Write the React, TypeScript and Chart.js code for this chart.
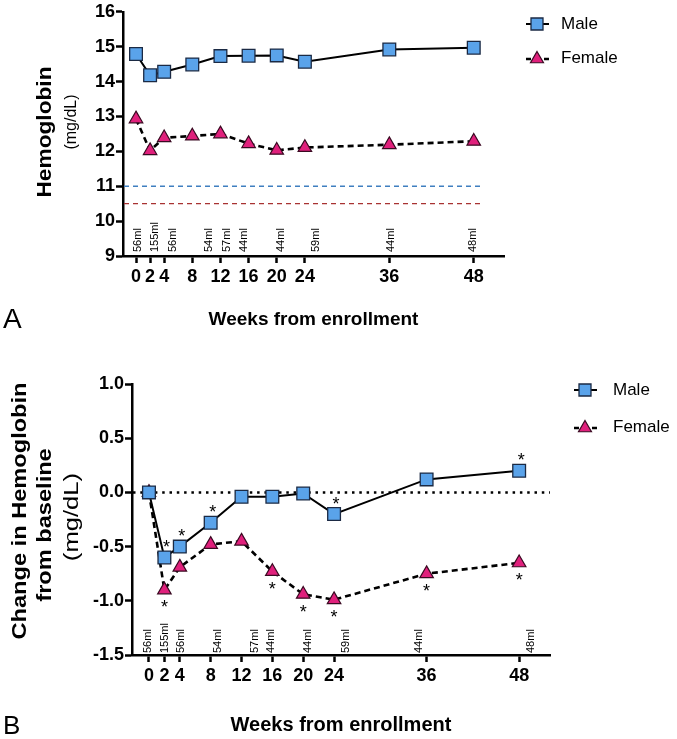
import React, { useEffect, useRef } from "react";
import { Chart, registerables } from "chart.js";

Chart.register(...registerables);

// ---------------- data ----------------
const weeks = [0, 2, 4, 8, 12, 16, 20, 24, 36, 48];

// Panel A: absolute hemoglobin (mg/dL)
const maleHb = [14.79, 14.18, 14.28, 14.49, 14.73, 14.74, 14.75, 14.57, 14.92, 14.97];
const femaleHb = [12.93, 12.02, 12.39, 12.44, 12.5, 12.22, 12.03, 12.11, 12.19, 12.29];
const maleThreshold = 11;
const femaleThreshold = 10.5;
const thresholdEndWeek = 49;

// Panel B: change from baseline (mg/dL)
const maleChange = [0, -0.6, -0.5, -0.28, -0.04, -0.04, -0.01, -0.2, 0.12, 0.2];
const femaleChange = [0, -0.9, -0.69, -0.48, -0.45, -0.73, -0.94, -0.99, -0.75, -0.65];
const maleChangeSig = [false, true, true, true, false, false, false, true, false, true];
const femaleChangeSig = [false, true, false, false, false, true, true, true, true, true];

// blood volume annotations (label, week position)
const volumeLabels = ["56ml", "155ml", "56ml", "54ml", "57ml", "44ml", "44ml", "59ml", "44ml", "48ml"];
const volumePosA = [0.35, 2.7, 5.3, 10.4, 12.9, 15.4, 20.6, 25.6, 36.3, 48.0];
const volumePosB = [-0.1, 2.05, 4.2, 9.0, 13.8, 15.9, 20.7, 25.6, 35.0, 49.6];

const seriesNames = ["Male", "Female"];

// ---------------- styles ----------------
const FONT = "'Liberation Sans', Arial, Helvetica, sans-serif";
const MALE_FILL = "#5AA3EA";
const MALE_EDGE = "#1b2a44";
const FEMALE_FILL = "#E0207C";
const FEMALE_EDGE = "#3a0a22";

function drawSquare(ctx: CanvasRenderingContext2D, x: number, y: number, s: number) {
  ctx.save();
  ctx.fillStyle = MALE_FILL;
  ctx.strokeStyle = MALE_EDGE;
  ctx.lineWidth = 1.3;
  ctx.setLineDash([]);
  ctx.beginPath();
  ctx.rect(x - s / 2, y - s / 2, s, s);
  ctx.fill();
  ctx.stroke();
  ctx.restore();
}

function drawTriangle(ctx: CanvasRenderingContext2D, x: number, y: number, r: number) {
  ctx.save();
  ctx.fillStyle = FEMALE_FILL;
  ctx.strokeStyle = FEMALE_EDGE;
  ctx.lineWidth = 1.2;
  ctx.setLineDash([]);
  ctx.beginPath();
  let a = 0;
  for (let k = 0; k < 3; k++) {
    const px = x + Math.sin(a) * r;
    const py = y - Math.cos(a) * r;
    if (k === 0) ctx.moveTo(px, py);
    else ctx.lineTo(px, py);
    a += (2 * Math.PI) / 3;
  }
  ctx.closePath();
  ctx.fill();
  ctx.stroke();
  ctx.restore();
}

function vText(
  ctx: CanvasRenderingContext2D,
  text: string,
  x: number,
  y: number,
  font: string,
  stretch: number
) {
  ctx.save();
  ctx.translate(x, y);
  ctx.rotate(-Math.PI / 2);
  ctx.scale(stretch, 1);
  ctx.font = font;
  ctx.fillStyle = "#000";
  ctx.textAlign = "center";
  ctx.textBaseline = "middle";
  ctx.fillText(text, 0, 0);
  ctx.restore();
}

const decorPlugin = {
  id: "decor",
  beforeDatasetsDraw(chart: any, _args: any, opts: any) {
    const ctx: CanvasRenderingContext2D = chart.ctx;
    const xs = chart.scales.x;
    const ys = chart.scales.y;
    const { left, right, bottom } = chart.chartArea;
    (opts.refLines || []).forEach((r: any) => {
      const y = ys.getPixelForValue(r.value);
      const x2 = r.endWeek != null ? xs.getPixelForValue(r.endWeek) : right;
      ctx.save();
      ctx.strokeStyle = r.color;
      ctx.lineWidth = r.width;
      ctx.setLineDash(r.dash);
      ctx.beginPath();
      ctx.moveTo(left + 1, y);
      ctx.lineTo(x2, y);
      ctx.stroke();
      ctx.restore();
    });
    if (opts.volumePos) {
      ctx.save();
      ctx.font = `10px ${FONT}`;
      ctx.fillStyle = "#000";
      volumeLabels.forEach((t, i) => {
        const x = xs.getPixelForValue(opts.volumePos[i]);
        ctx.save();
        ctx.translate(x, bottom - opts.volumeGap);
        ctx.rotate(-Math.PI / 2);
        ctx.scale(opts.volumeStretch, 1);
        ctx.textAlign = "left";
        ctx.textBaseline = "middle";
        ctx.fillText(t, 0, 0);
        ctx.restore();
      });
      ctx.restore();
    }
  },
  afterDatasetsDraw(chart: any, _args: any, opts: any) {
    const ctx: CanvasRenderingContext2D = chart.ctx;
    const xs = chart.scales.x;
    const ys = chart.scales.y;
    if (opts.stars) {
      ctx.save();
      ctx.font = `18px ${FONT}`;
      ctx.fillStyle = "#000";
      ctx.textAlign = "center";
      ctx.textBaseline = "alphabetic";
      opts.stars.forEach((s: any) => {
        s.sig.forEach((on: boolean, i: number) => {
          if (!on) return;
          const x = xs.getPixelForValue(weeks[i]) + s.dx;
          const y = ys.getPixelForValue(s.values[i]) + s.dy;
          ctx.fillText("*", x, y + 10.5);
        });
      });
      ctx.restore();
    }
  },
  afterDraw(chart: any, _args: any, opts: any) {
    const ctx: CanvasRenderingContext2D = chart.ctx;
    (opts.yTitles || []).forEach((t: any) => vText(ctx, t.text, t.x, t.y, t.font, t.stretch));
    if (opts.letter) {
      ctx.save();
      ctx.font = `${opts.letter.size}px ${FONT}`;
      ctx.fillStyle = "#000";
      ctx.textAlign = "left";
      ctx.textBaseline = "alphabetic";
      ctx.fillText(opts.letter.text, opts.letter.x, opts.letter.y);
      ctx.restore();
    }
    if (opts.legend) {
      const L = opts.legend;
      const mx = chart.chartArea.right + L.dx;
      ctx.save();
      ctx.strokeStyle = "#000";
      ctx.lineWidth = 2;
      ctx.beginPath();
      ctx.moveTo(mx - 11, L.y1);
      ctx.lineTo(mx + 12, L.y1);
      ctx.stroke();
      ctx.restore();
      drawSquare(ctx, mx, L.y1, 12);
      ctx.save();
      ctx.strokeStyle = "#000";
      ctx.lineWidth = 2.5;
      ctx.setLineDash([5, 4]);
      ctx.beginPath();
      ctx.moveTo(mx - 11, L.y2 + 1);
      ctx.lineTo(mx + 12, L.y2 + 1);
      ctx.stroke();
      ctx.restore();
      drawTriangle(ctx, mx, L.y2 + 1, 7.5);
      ctx.save();
      ctx.font = `17px ${FONT}`;
      ctx.fillStyle = "#000";
      ctx.textAlign = "left";
      ctx.textBaseline = "middle";
      ctx.fillText(seriesNames[0], mx + L.textDx, L.y1);
      ctx.fillText(seriesNames[1], mx + L.textDx, L.y2);
      ctx.restore();
    }
  },
};

function makeDatasets(male: number[], female: number[]) {
  return [
    {
      label: seriesNames[0],
      data: weeks.map((w, i) => ({ x: w, y: male[i] })),
      borderColor: "#000",
      borderWidth: 2,
      pointStyle: "rect",
      pointRadius: 9,
      pointBackgroundColor: MALE_FILL,
      pointBorderColor: MALE_EDGE,
      pointBorderWidth: 1.3,
      tension: 0,
      fill: false,
    },
    {
      label: seriesNames[1],
      data: weeks.map((w, i) => ({ x: w, y: female[i] })),
      borderColor: "#000",
      borderWidth: 2.6,
      borderDash: [6, 4],
      pointStyle: "triangle",
      pointRadius: 7.8,
      pointBackgroundColor: FEMALE_FILL,
      pointBorderColor: FEMALE_EDGE,
      pointBorderWidth: 1.2,
      tension: 0,
      fill: false,
    },
  ];
}

function xAxis(min: number, max: number, height: number, titleSize: number, titlePad: number) {
  return {
    type: "linear",
    min,
    max,
    afterBuildTicks: (s: any) => {
      s.ticks = weeks.map((v) => ({ value: v }));
    },
    afterFit: (s: any) => {
      s.height = height;
    },
    grid: {
      drawOnChartArea: false,
      drawTicks: true,
      tickLength: 7,
      tickColor: "#000",
      tickWidth: 2.5,
      color: "#000",
    },
    border: { display: true, color: "#000", width: 2.5 },
    ticks: {
      color: "#000",
      font: { family: FONT, size: 18, weight: "bold" },
      padding: 3,
      maxRotation: 0,
      autoSkip: false,
      callback: (v: any) => String(v),
    },
    title: {
      display: true,
      text: "Weeks from enrollment",
      color: "#000",
      font: { family: FONT, size: titleSize, weight: "bold" },
      padding: { top: 0, bottom: titlePad },
    },
  };
}

function yAxis(min: number, max: number, step: number, width: number, digits: number) {
  return {
    type: "linear",
    min,
    max,
    afterFit: (s: any) => {
      s.width = width;
    },
    grid: {
      drawOnChartArea: false,
      drawTicks: true,
      tickLength: 7,
      tickColor: "#000",
      tickWidth: 2.5,
      color: "#000",
    },
    border: { display: true, color: "#000", width: 2.5 },
    ticks: {
      stepSize: step,
      color: "#000",
      font: { family: FONT, size: 18, weight: "bold" },
      padding: 1,
      callback: (v: any) => Number(v).toFixed(digits),
    },
  };
}

export default function App() {
  const refA = useRef<HTMLCanvasElement>(null);
  const refB = useRef<HTMLCanvasElement>(null);

  useEffect(() => {
    const chartA = new Chart(refA.current as HTMLCanvasElement, {
      type: "line",
      data: { datasets: makeDatasets(maleHb, femaleHb) as any },
      options: {
        responsive: false,
        animation: false,
        events: [],
        layout: { padding: { top: 11, right: 173, left: 0, bottom: 0 } },
        scales: {
          x: xAxis(-1.85, 52.3, 114, 19, 38.6) as any,
          y: yAxis(9, 16, 1, 123, 0) as any,
        },
        plugins: {
          legend: { display: false },
          tooltip: { enabled: false },
          decor: {
            refLines: [
              { value: maleThreshold, color: "#3f7fc0", width: 1.4, dash: [5, 4], endWeek: thresholdEndWeek },
              { value: femaleThreshold, color: "#a83232", width: 1.4, dash: [5, 4], endWeek: thresholdEndWeek },
            ],
            volumePos: volumePosA,
            volumeGap: 4,
            volumeStretch: 1.1,
            yTitles: [
              { text: "Hemoglobin", x: 45, y: 132, font: `bold 21px ${FONT}`, stretch: 1.08 },
              { text: "(mg/dL)", x: 72, y: 122, font: `16px ${FONT}`, stretch: 1.0 },
            ],
            letter: { text: "A", x: 3, y: 328, size: 28 },
            legend: { dx: 33, y1: 24, y2: 58, textDx: 24 },
          },
        } as any,
      },
      plugins: [decorPlugin as any],
    });

    const chartB = new Chart(refB.current as HTMLCanvasElement, {
      type: "line",
      data: { datasets: makeDatasets(maleChange, femaleChange) as any },
      options: {
        responsive: false,
        animation: false,
        events: [],
        layout: { padding: { top: 14, right: 127, left: 0, bottom: 0 } },
        scales: {
          x: xAxis(-2.2, 52.0, 84, 20, 2) as any,
          y: yAxis(-1.5, 1.0, 0.5, 132, 1) as any,
        },
        plugins: {
          legend: { display: false },
          tooltip: { enabled: false },
          decor: {
            refLines: [{ value: 0, color: "#000", width: 2.5, dash: [2.5, 4.8], endWeek: null }],
            volumePos: volumePosB,
            volumeGap: 2,
            volumeStretch: 1.1,
            stars: [
              { sig: maleChangeSig, values: maleChange, dx: 2, dy: -15 },
              { sig: femaleChangeSig, values: femaleChange, dx: 0, dy: 13 },
            ],
            yTitles: [
              { text: "Change in Hemoglobin", x: 20, y: 141, font: `bold 20px ${FONT}`, stretch: 1.18 },
              { text: "from baseline", x: 45, y: 155, font: `bold 20px ${FONT}`, stretch: 1.18 },
              { text: "(mg/dL)", x: 72, y: 147, font: `21px ${FONT}`, stretch: 1.22 },
            ],
            letter: { text: "B", x: 3, y: 364, size: 26 },
            legend: { dx: 35, y1: 20, y2: 57, textDx: 28 },
          },
        } as any,
      },
      plugins: [decorPlugin as any],
    });

    return () => {
      chartA.destroy();
      chartB.destroy();
    };
  }, []);

  return (
    <div
      style={{
        position: "absolute",
        left: 0,
        top: 0,
        width: 677,
        height: 739,
        background: "#fff",
        overflow: "hidden",
      }}
    >
      <canvas ref={refA} width={677} height={370} style={{ display: "block", width: 677, height: 370 }} />
      <canvas ref={refB} width={677} height={369} style={{ display: "block", width: 677, height: 369 }} />
    </div>
  );
}
